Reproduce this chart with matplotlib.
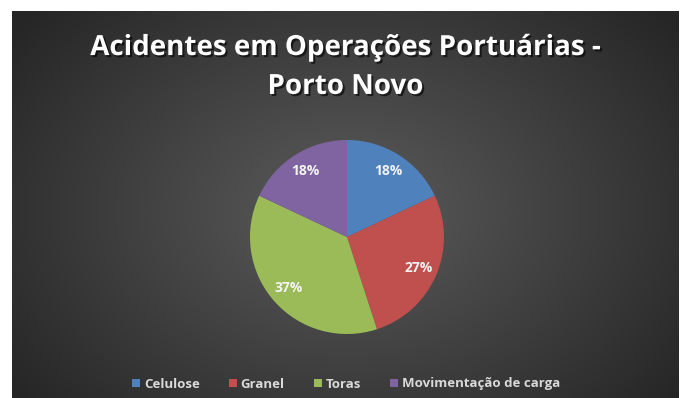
import numpy as np
import matplotlib.pyplot as plt
import matplotlib.patheffects as pe
from matplotlib.patches import Patch

# accidents per cargo type, share of total (%)
categorias = ['Celulose', 'Granel', 'Toras', 'Movimentação de carga']
percentuais = [18, 27, 37, 18]
cores = ['#4f81bd', '#c0504d', '#9bbb59', '#8064a2']
titulo = 'Acidentes em Operações Portuárias -\nPorto Novo'

W, H = 684, 398
fig = plt.figure(figsize=(W / 100, H / 100), dpi=100, facecolor='white')

# dark panel with a soft radial gradient
bg = fig.add_axes([12 / W, 0, 667 / W, 387 / H])
yy, xx = np.mgrid[0:387, 0:667]
d = np.sqrt(((xx - 335) / 420) ** 2 + ((yy - 200) / 300) ** 2)
d = np.clip(d, 0, 1)
c0, c1 = np.array([0x5c, 0x5c, 0x5c]) / 255, np.array([0x26, 0x26, 0x26]) / 255
img = c0[None, None, :] * (1 - d[..., None]) + c1[None, None, :] * d[..., None]
bg.imshow(img, aspect='auto', extent=[0, 1, 0, 1], origin='upper')
bg.axis('off')

# pie
cx, cy, r = 347, 237, 97
ax = fig.add_axes([(cx - r) / W, (H - cy - r) / H, 2 * r / W, 2 * r / H])
wedges, texts, autotexts = ax.pie(
    percentuais, colors=cores, startangle=90, counterclock=False, radius=1,
    autopct=lambda p: f'{p:.0f}%', pctdistance=0.8,
    wedgeprops=dict(linewidth=0),
    textprops=dict(color='#f2f2f2', fontsize=10, fontweight='bold', family='Open Sans'))
ax.set_xlim(-1, 1)
ax.set_ylim(-1, 1)
ax.set_aspect('auto')
ax.axis('off')

fig.text(0.505, 1 - 67 / H, titulo, ha='center', va='center', color='white',
         fontsize=20, fontweight='bold', family='Open Sans', linespacing=1.45,
         path_effects=[pe.withSimplePatchShadow(offset=(1.5, -1.5), shadow_rgbFace='black', alpha=0.6)])

handles = [Patch(facecolor=c, edgecolor='none') for c in cores]
fig.legend(handles, categorias, loc='center', bbox_to_anchor=(346 / W, 1 - 384 / H), ncol=4,
           frameon=False, labelcolor='#d9d9d9', handlelength=0.6, handleheight=0.6,
           handletextpad=0.3, columnspacing=2.2, prop=dict(family='Open Sans', weight='bold', size=9.5))

fig.savefig('out.png', dpi=100, facecolor='white')
